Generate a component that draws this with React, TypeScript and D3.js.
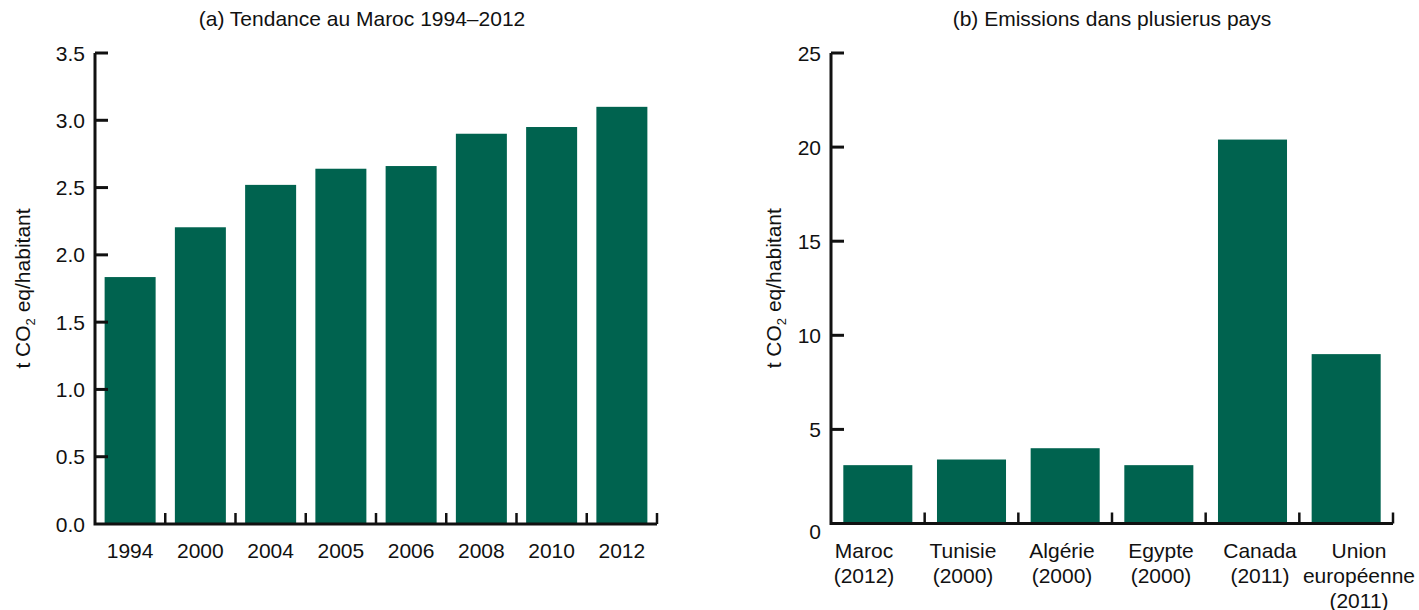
import React from "react";
import * as d3 from "d3";

// (a) Morocco, per-capita emissions by year
const years = ["1994", "2000", "2004", "2005", "2006", "2008", "2010", "2012"];
const moroccoValues = [1.835, 2.205, 2.52, 2.64, 2.66, 2.9, 2.95, 3.1];
const leftTicks = [0, 0.5, 1.0, 1.5, 2.0, 2.5, 3.0, 3.5];

// (b) Several countries
const countries = [
  ["Maroc", "(2012)"],
  ["Tunisie", "(2000)"],
  ["Algérie", "(2000)"],
  ["Egypte", "(2000)"],
  ["Canada", "(2011)"],
  ["Union", "européenne", "(2011)"],
];
const countryValues = [3.1, 3.4, 4.0, 3.1, 20.4, 9.0];
const rightTicks = [0, 5, 10, 15, 20, 25];

const W = 1419;
const H = 610;
const BAR = "#00634f";
const INK = "#111";
const FONT = "'Liberation Sans', Arial, Helvetica, sans-serif";
const FS = 21;

type PanelProps = {
  title: string;
  categories: string[][];
  values: number[];
  ticks: number[];
  yMax: number;
  x0: number;
  x1: number;
  y0: number;
  y1: number;
  padding: number;
  fmt: (v: number) => string;
  labelX: number;
  titleX: number;
  zeroShift: number;
  labelRange?: [number, number];
};

function Panel(p: PanelProps) {
  const keys = p.categories.map((c) => c.join(" "));
  const x = d3
    .scaleBand<string>()
    .domain(keys)
    .range([p.x0, p.x1])
    .paddingInner(p.padding)
    .paddingOuter(p.padding / 2);
  const y = d3.scaleLinear().domain([0, p.yMax]).range([p.y0, p.y1]);
  const step = x.step();
  const boundaries = d3.range(keys.length + 1).map((i) => p.x0 + i * step);
  const midY = (p.y0 + p.y1) / 2 + 0;
  // category labels may be spread a little wider than the bars
  const lx = p.labelRange
    ? d3.scalePoint<string>().domain(keys).range(p.labelRange)
    : (k: string) => (x(k) as number) + x.bandwidth() / 2;

  return (
    <g>
      <text x={p.titleX} y={26} textAnchor="middle" fontSize={FS} fill={INK}>
        {p.title}
      </text>

      {keys.map((k, i) => (
        <rect
          key={k}
          x={x(k)}
          y={y(p.values[i])}
          width={x.bandwidth()}
          height={p.y0 - y(p.values[i])}
          fill={BAR}
        />
      ))}

      {/* axes */}
      <path
        d={`M${p.x0},${y(p.yMax)}V${p.y0}H${p.x1}`}
        fill="none"
        stroke={INK}
        strokeWidth={3}
        strokeLinejoin="miter"
      />
      {p.ticks.map((t) => (
        <g key={t}>
          {t > 0 && (
            <line
              x1={p.x0}
              x2={p.x0 + 13}
              y1={y(t)}
              y2={y(t)}
              stroke={INK}
              strokeWidth={3}
            />
          )}
          <text
            x={p.x0 - 10}
            y={y(t) + (t === 0 ? p.zeroShift : 0)}
            dy="0.36em"
            textAnchor="end"
            fontSize={FS}
            fill={INK}
          >
            {p.fmt(t)}
          </text>
        </g>
      ))}
      {boundaries.slice(1).map((bx, i) => (
        <line
          key={i}
          x1={bx}
          x2={bx}
          y1={p.y0}
          y2={p.y0 - 11}
          stroke={INK}
          strokeWidth={2.5}
        />
      ))}
      {p.categories.map((lines, i) => {
        const cx = lx(keys[i]) as number;
        return (
          <text
            key={keys[i]}
            x={cx}
            y={p.y0 + 34}
            textAnchor="middle"
            fontSize={FS}
            fill={INK}
          >
            {lines.map((l, j) => (
              <tspan key={j} x={cx} dy={j === 0 ? 0 : 25}>
                {l}
              </tspan>
            ))}
          </text>
        );
      })}

      <text
        transform={`translate(${p.labelX},${midY}) rotate(-90)`}
        textAnchor="middle"
        fontSize={FS}
        fill={INK}
      >
        <tspan>t CO</tspan>
        <tspan fontSize={13} dy={5}>2</tspan>
        <tspan dy={-5}> eq/habitant</tspan>
      </text>
    </g>
  );
}

export default function App() {
  return (
    <svg
      width={W}
      height={H}
      style={{ position: "absolute", left: 0, top: 0, background: "#fff" }}
      fontFamily={FONT}
    >
      <rect width={W} height={H} fill="#fff" />
      <Panel
        title="(a) Tendance au Maroc 1994–2012"
        categories={years.map((y) => [y])}
        values={moroccoValues}
        ticks={leftTicks}
        yMax={3.5}
        x0={95}
        x1={657}
        y0={524}
        y1={53}
        padding={0.274}
        fmt={(v) => d3.format(".1f")(v)}
        labelX={30}
        titleX={362}
        zeroShift={0}
      />
      <Panel
        title="(b) Emissions dans plusierus pays"
        categories={countries}
        values={countryValues}
        ticks={rightTicks}
        yMax={25}
        x0={831}
        x1={1393}
        y0={523.5}
        y1={53}
        padding={0.263}
        fmt={(v) => String(v)}
        labelX={781}
        titleX={1112}
        zeroShift={8}
        labelRange={[864, 1359]}
      />
    </svg>
  );
}
